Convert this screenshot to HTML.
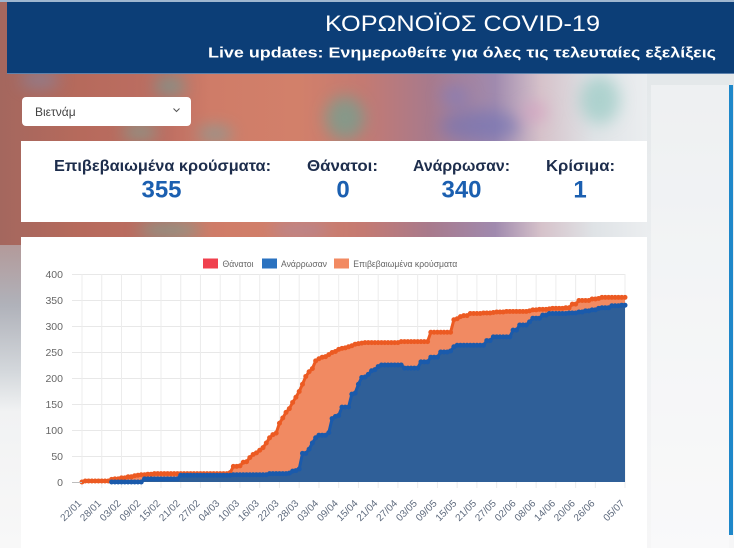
<!DOCTYPE html>
<html>
<head>
<meta charset="utf-8">
<style>
html,body{margin:0;padding:0;width:734px;height:548px;overflow:hidden;background:#eef0f2}
svg{display:block}
</style>
</head>
<body>
<svg width="734" height="548" viewBox="0 0 734 548" xmlns="http://www.w3.org/2000/svg" font-family="'Liberation Sans', 'Noto Sans CJK SC', sans-serif">
<defs>
  <linearGradient id="bgH" gradientUnits="userSpaceOnUse" x1="0" y1="0" x2="660" y2="0">
    <stop offset="0" stop-color="#a4675e"/>
    <stop offset="0.12" stop-color="#b66a5c"/>
    <stop offset="0.25" stop-color="#bd6e62"/>
    <stop offset="0.32" stop-color="#cf7c68"/>
    <stop offset="0.45" stop-color="#d2806a"/>
    <stop offset="0.55" stop-color="#c47a72"/>
    <stop offset="0.65" stop-color="#a87a8c"/>
    <stop offset="0.75" stop-color="#a08aae"/>
    <stop offset="0.82" stop-color="#d6c2ca"/>
    <stop offset="0.9" stop-color="#dfe3e6"/>
    <stop offset="1" stop-color="#eef0f2"/>
  </linearGradient>
  <linearGradient id="leftV" gradientUnits="userSpaceOnUse" x1="0" y1="245" x2="0" y2="548">
    <stop offset="0" stop-color="#b39a9a"/>
    <stop offset="0.2" stop-color="#b0b2ba"/>
    <stop offset="0.42" stop-color="#d4d8dc"/>
    <stop offset="0.55" stop-color="#f1f2f3"/>
    <stop offset="1" stop-color="#f8f8f8"/>
  </linearGradient>
  <linearGradient id="rightV" gradientUnits="userSpaceOnUse" x1="0" y1="74" x2="0" y2="548">
    <stop offset="0" stop-color="#e4e8ea"/>
    <stop offset="0.5" stop-color="#eef0f2"/>
    <stop offset="1" stop-color="#f6f6f7"/>
  </linearGradient>
  <filter id="blur" x="-60%" y="-60%" width="220%" height="220%"><feGaussianBlur stdDeviation="8"/></filter>
  <marker id="mo" markerUnits="userSpaceOnUse" markerWidth="2" markerHeight="10" refX="0" refY="0" overflow="visible">
    <ellipse cx="0" cy="0" rx="0.76" ry="4.8" fill="#ec5a22"/>
  </marker>
  <marker id="mb" markerUnits="userSpaceOnUse" markerWidth="2" markerHeight="10" refX="0" refY="0" overflow="visible">
    <ellipse cx="0" cy="0" rx="0.76" ry="4.8" fill="#1a5aab"/>
  </marker>
</defs>

<!-- background -->
<rect width="734" height="548" fill="#eef0f2"/>
<rect x="0" y="0" width="660" height="250" fill="url(#bgH)"/>
<rect x="0" y="245" width="21" height="303" fill="url(#leftV)"/>
<rect x="647" y="74" width="87" height="474" fill="url(#rightV)"/>
<g filter="url(#blur)" opacity="0.6">
  <ellipse cx="170" cy="86" rx="16" ry="10" fill="#5fa8a0"/>
  <ellipse cx="345" cy="118" rx="20" ry="22" fill="#5cab9a"/>
  <ellipse cx="480" cy="126" rx="40" ry="16" fill="#6f72b5"/>
  <ellipse cx="455" cy="96" rx="14" ry="10" fill="#7b7cc0"/>
  <ellipse cx="535" cy="112" rx="12" ry="10" fill="#d69ac0"/>
  <ellipse cx="600" cy="100" rx="20" ry="24" fill="#8cc6be"/>
  <ellipse cx="140" cy="132" rx="18" ry="8" fill="#6bb0a2"/>
  <ellipse cx="215" cy="134" rx="18" ry="8" fill="#6aa9a8"/>
  <ellipse cx="170" cy="230" rx="32" ry="8" fill="#6cb0a0"/>
  <ellipse cx="300" cy="230" rx="30" ry="7" fill="#a08cb0"/>
  <ellipse cx="40" cy="80" rx="20" ry="8" fill="#7c8cb0"/>
</g>
<rect x="651" y="85" width="78" height="463" fill="#ffffff" opacity="0.35"/>
<rect x="729" y="85" width="4" height="450" fill="#1e87c9"/>

<!-- header -->
<rect x="0" y="0" width="734" height="2" fill="#9fb6cf"/>
<rect x="7" y="2" width="727" height="71.5" fill="#0c3e77"/>
<rect x="7" y="73" width="727" height="1" fill="#5d82ad"/>
<text x="325" y="31" font-size="22" fill="#ffffff" textLength="275" lengthAdjust="spacingAndGlyphs">ΚΟΡΩΝΟΪΟΣ COVID-19</text>
<text x="208" y="57.5" font-size="14.5" font-weight="bold" fill="#ffffff" textLength="508" lengthAdjust="spacingAndGlyphs">Live updates: Ενημερωθείτε για όλες τις τελευταίες εξελίξεις</text>

<!-- dropdown -->
<rect x="22" y="97" width="169" height="29" rx="4" fill="#ffffff"/>
<text x="35" y="116" font-size="12" fill="#444">Βιετνάμ</text>
<polyline points="173.5,108.5 176.5,111.5 179.5,108.5" fill="none" stroke="#555" stroke-width="1"/>

<!-- stats panel -->
<rect x="21" y="141" width="626" height="81" fill="#ffffff"/>
<g font-weight="bold" font-size="16" fill="#1d2d4c">
  <text x="54" y="171" textLength="217" lengthAdjust="spacingAndGlyphs">Επιβεβαιωμένα κρούσματα:</text>
  <text x="307" y="171" textLength="71" lengthAdjust="spacingAndGlyphs">Θάνατοι:</text>
  <text x="413" y="171" textLength="97" lengthAdjust="spacingAndGlyphs">Ανάρρωσαν:</text>
  <text x="546" y="171" textLength="69" lengthAdjust="spacingAndGlyphs">Κρίσιμα:</text>
</g>
<g font-weight="bold" font-size="24" fill="#1b5fb0" text-anchor="middle">
  <text x="161.5" y="197.5">355</text>
  <text x="343" y="197.5">0</text>
  <text x="461.5" y="197.5">340</text>
  <text x="580" y="197.5">1</text>
</g>

<!-- chart panel -->
<rect x="21" y="237" width="626" height="311" fill="#ffffff"/>

<!-- legend -->
<rect x="203" y="258.5" width="15" height="10" fill="#f0404e"/>
<text x="222.5" y="267" font-size="9.5" fill="#666" textLength="31" lengthAdjust="spacingAndGlyphs">Θάνατοι</text>
<rect x="262" y="258.5" width="15" height="10" fill="#2a72c0"/>
<text x="281" y="267" font-size="9.5" fill="#666" textLength="46" lengthAdjust="spacingAndGlyphs">Ανάρρωσαν</text>
<rect x="334" y="258.5" width="15" height="10" fill="#f28a62"/>
<text x="353.3" y="267" font-size="9.5" fill="#666" textLength="104" lengthAdjust="spacingAndGlyphs">Επιβεβαιωμένα κρούσματα</text>

<!-- grid -->
<g stroke="#e8e8e8" stroke-width="1">
  <line x1="72" y1="274.5" x2="625" y2="274.5"/>
  <line x1="72" y1="300.5" x2="625" y2="300.5"/>
  <line x1="72" y1="326.5" x2="625" y2="326.5"/>
  <line x1="72" y1="352.5" x2="625" y2="352.5"/>
  <line x1="72" y1="378.5" x2="625" y2="378.5"/>
  <line x1="72" y1="404.5" x2="625" y2="404.5"/>
  <line x1="72" y1="430.5" x2="625" y2="430.5"/>
  <line x1="72" y1="456.5" x2="625" y2="456.5"/>
</g>
<g stroke="#ececec" stroke-width="1">
  <line x1="82" y1="274" x2="82" y2="488"/>
  <line x1="101.75" y1="274" x2="101.75" y2="488"/>
  <line x1="121.49" y1="274" x2="121.49" y2="488"/>
  <line x1="141.24" y1="274" x2="141.24" y2="488"/>
  <line x1="160.98" y1="274" x2="160.98" y2="488"/>
  <line x1="180.73" y1="274" x2="180.73" y2="488"/>
  <line x1="200.47" y1="274" x2="200.47" y2="488"/>
  <line x1="220.22" y1="274" x2="220.22" y2="488"/>
  <line x1="239.96" y1="274" x2="239.96" y2="488"/>
  <line x1="259.71" y1="274" x2="259.71" y2="488"/>
  <line x1="279.45" y1="274" x2="279.45" y2="488"/>
  <line x1="299.2" y1="274" x2="299.2" y2="488"/>
  <line x1="318.94" y1="274" x2="318.94" y2="488"/>
  <line x1="338.69" y1="274" x2="338.69" y2="488"/>
  <line x1="358.43" y1="274" x2="358.43" y2="488"/>
  <line x1="378.18" y1="274" x2="378.18" y2="488"/>
  <line x1="397.92" y1="274" x2="397.92" y2="488"/>
  <line x1="417.67" y1="274" x2="417.67" y2="488"/>
  <line x1="437.41" y1="274" x2="437.41" y2="488"/>
  <line x1="457.16" y1="274" x2="457.16" y2="488"/>
  <line x1="476.9" y1="274" x2="476.9" y2="488"/>
  <line x1="496.65" y1="274" x2="496.65" y2="488"/>
  <line x1="516.39" y1="274" x2="516.39" y2="488"/>
  <line x1="536.14" y1="274" x2="536.14" y2="488"/>
  <line x1="555.88" y1="274" x2="555.88" y2="488"/>
  <line x1="575.63" y1="274" x2="575.63" y2="488"/>
  <line x1="595.37" y1="274" x2="595.37" y2="488"/>
  <line x1="625" y1="274" x2="625" y2="488"/>
</g>

<!-- y labels -->
<g font-size="10.5" fill="#666" text-anchor="end">
  <text x="63" y="278">400</text>
  <text x="63" y="304">350</text>
  <text x="63" y="330">300</text>
  <text x="63" y="356">250</text>
  <text x="63" y="382">200</text>
  <text x="63" y="408">150</text>
  <text x="63" y="434">100</text>
  <text x="63" y="460">50</text>
  <text x="63" y="486">0</text>
</g>

<!-- data -->
<g transform="translate(82,482) scale(3.2909,-0.52)">
  <polygon fill="#f18a62" points="0,0 1,2 2,2 3,2 4,2 5,2 6,2 7,2 8,2 9,5 10,6 11,6 12,8 13,8 14,10 15,10 16,12 17,13 18,14 19,14 20,15 21,15 22,16 23,16 24,16 25,16 26,16 27,16 28,16 29,16 30,16 31,16 32,16 33,16 34,16 35,16 36,16 37,16 38,16 39,16 40,16 41,16 42,16 43,16 44,16 45,18 46,30 47,30 48,31 49,38 50,39 51,47 52,53 53,56 54,61 55,66 56,75 57,85 58,91 59,94 60,113 61,123 62,134 63,141 64,153 65,163 66,174 67,188 68,203 69,212 70,218 71,233 72,237 73,240 74,241 75,245 76,249 77,251 78,255 79,257 80,258 81,260 82,262 83,265 84,266 85,267 86,268 87,268 88,268 89,268 90,268 91,268 92,268 93,268 94,268 95,268 96,268 97,270 98,270 99,270 100,270 101,270 102,270 103,270 104,270 105,270 106,288 107,288 108,288 109,288 110,288 111,288 112,288 113,312 114,314 115,318 116,320 117,320 118,324 119,324 120,324 121,324 122,325 123,325 124,325 125,326 126,327 127,327 128,327 129,328 130,328 131,328 132,328 133,328 134,328 135,328 136,329 137,331 138,331 139,332 140,332 141,332 142,333 143,334 144,334 145,334 146,334 147,335 148,335 149,342 150,342 151,349 152,349 153,349 154,349 155,352 156,352 157,353 158,355 159,355 160,355 161,355 162,355 163,355 164,355 165,355 165,0"/>
  <polyline fill="none" stroke="#ec5a22" stroke-width="3" stroke-linejoin="round" stroke-linecap="round" vector-effect="non-scaling-stroke" marker-start="url(#mo)" marker-mid="url(#mo)" marker-end="url(#mo)" points="0,0 1,2 2,2 3,2 4,2 5,2 6,2 7,2 8,2 9,5 10,6 11,6 12,8 13,8 14,10 15,10 16,12 17,13 18,14 19,14 20,15 21,15 22,16 23,16 24,16 25,16 26,16 27,16 28,16 29,16 30,16 31,16 32,16 33,16 34,16 35,16 36,16 37,16 38,16 39,16 40,16 41,16 42,16 43,16 44,16 45,18 46,30 47,30 48,31 49,38 50,39 51,47 52,53 53,56 54,61 55,66 56,75 57,85 58,91 59,94 60,113 61,123 62,134 63,141 64,153 65,163 66,174 67,188 68,203 69,212 70,218 71,233 72,237 73,240 74,241 75,245 76,249 77,251 78,255 79,257 80,258 81,260 82,262 83,265 84,266 85,267 86,268 87,268 88,268 89,268 90,268 91,268 92,268 93,268 94,268 95,268 96,268 97,270 98,270 99,270 100,270 101,270 102,270 103,270 104,270 105,270 106,288 107,288 108,288 109,288 110,288 111,288 112,288 113,312 114,314 115,318 116,320 117,320 118,324 119,324 120,324 121,324 122,325 123,325 124,325 125,326 126,327 127,327 128,327 129,328 130,328 131,328 132,328 133,328 134,328 135,328 136,329 137,331 138,331 139,332 140,332 141,332 142,333 143,334 144,334 145,334 146,334 147,335 148,335 149,342 150,342 151,349 152,349 153,349 154,349 155,352 156,352 157,353 158,355 159,355 160,355 161,355 162,355 163,355 164,355 165,355"/>
  <polygon fill="#2f5f98" points="9,0 10,0 11,0 12,0 13,0 14,0 15,0 16,0 17,0 18,0 19,6 20,6 21,6 22,6 23,6 24,6 25,6 26,6 27,6 28,6 29,6 30,13 31,13 32,13 33,13 34,13 35,13 36,13 37,13 38,13 39,13 40,13 41,13 42,13 43,13 44,13 45,13 46,14 47,14 48,14 49,14 50,14 51,14 52,14 53,14 54,14 55,14 56,14 57,16 58,16 59,16 60,16 61,16 62,16 63,17 64,21 65,22 66,25 67,55 68,55 69,63 70,75 71,85 72,90 73,90 74,90 75,95 76,122 77,126 78,128 79,144 80,144 81,144 82,169 83,171 84,188 85,201 86,202 87,207 88,214 89,216 90,222 91,225 92,225 93,225 94,225 95,225 96,225 97,225 98,219 99,219 100,219 101,219 102,219 103,231 104,231 105,231 106,240 107,240 108,240 109,250 110,250 111,250 112,252 113,260 114,263 115,263 116,263 117,263 118,263 119,263 120,263 121,263 122,263 123,272 124,272 125,279 126,279 127,279 128,279 129,279 130,279 131,292 132,292 133,302 134,302 135,302 136,308 137,315 138,315 139,315 140,321 141,321 142,324 143,324 144,324 145,324 146,324 147,324 148,325 149,325 150,325 151,327 152,327 153,329 154,329 155,331 156,331 157,334 158,335 159,335 160,335 161,339 162,339 163,339 164,340 165,340 165,0"/>
  <polyline fill="none" stroke="#1a5aab" stroke-width="3" stroke-linejoin="round" stroke-linecap="round" vector-effect="non-scaling-stroke" marker-start="url(#mb)" marker-mid="url(#mb)" marker-end="url(#mb)" points="9,0 10,0 11,0 12,0 13,0 14,0 15,0 16,0 17,0 18,0 19,6 20,6 21,6 22,6 23,6 24,6 25,6 26,6 27,6 28,6 29,6 30,13 31,13 32,13 33,13 34,13 35,13 36,13 37,13 38,13 39,13 40,13 41,13 42,13 43,13 44,13 45,13 46,14 47,14 48,14 49,14 50,14 51,14 52,14 53,14 54,14 55,14 56,14 57,16 58,16 59,16 60,16 61,16 62,16 63,17 64,21 65,22 66,25 67,55 68,55 69,63 70,75 71,85 72,90 73,90 74,90 75,95 76,122 77,126 78,128 79,144 80,144 81,144 82,169 83,171 84,188 85,201 86,202 87,207 88,214 89,216 90,222 91,225 92,225 93,225 94,225 95,225 96,225 97,225 98,219 99,219 100,219 101,219 102,219 103,231 104,231 105,231 106,240 107,240 108,240 109,250 110,250 111,250 112,252 113,260 114,263 115,263 116,263 117,263 118,263 119,263 120,263 121,263 122,263 123,272 124,272 125,279 126,279 127,279 128,279 129,279 130,279 131,292 132,292 133,302 134,302 135,302 136,308 137,315 138,315 139,315 140,321 141,321 142,324 143,324 144,324 145,324 146,324 147,324 148,325 149,325 150,325 151,327 152,327 153,329 154,329 155,331 156,331 157,334 158,335 159,335 160,335 161,339 162,339 163,339 164,340 165,340"/>
</g>
<line x1="72" y1="482.5" x2="82" y2="482.5" stroke="#bdbdbd" stroke-width="1"/>

<!-- x labels -->
<g font-size="10" fill="#5f6b7e" text-anchor="end">
  <text transform="translate(82,504) rotate(-45)">22/01</text>
  <text transform="translate(101.75,504) rotate(-45)">28/01</text>
  <text transform="translate(121.49,504) rotate(-45)">03/02</text>
  <text transform="translate(141.24,504) rotate(-45)">09/02</text>
  <text transform="translate(160.98,504) rotate(-45)">15/02</text>
  <text transform="translate(180.73,504) rotate(-45)">21/02</text>
  <text transform="translate(200.47,504) rotate(-45)">27/02</text>
  <text transform="translate(220.22,504) rotate(-45)">04/03</text>
  <text transform="translate(239.96,504) rotate(-45)">10/03</text>
  <text transform="translate(259.71,504) rotate(-45)">16/03</text>
  <text transform="translate(279.45,504) rotate(-45)">22/03</text>
  <text transform="translate(299.2,504) rotate(-45)">28/03</text>
  <text transform="translate(318.94,504) rotate(-45)">03/04</text>
  <text transform="translate(338.69,504) rotate(-45)">09/04</text>
  <text transform="translate(358.43,504) rotate(-45)">15/04</text>
  <text transform="translate(378.18,504) rotate(-45)">21/04</text>
  <text transform="translate(397.92,504) rotate(-45)">27/04</text>
  <text transform="translate(417.67,504) rotate(-45)">03/05</text>
  <text transform="translate(437.41,504) rotate(-45)">09/05</text>
  <text transform="translate(457.16,504) rotate(-45)">15/05</text>
  <text transform="translate(476.9,504) rotate(-45)">21/05</text>
  <text transform="translate(496.65,504) rotate(-45)">27/05</text>
  <text transform="translate(516.39,504) rotate(-45)">02/06</text>
  <text transform="translate(536.14,504) rotate(-45)">08/06</text>
  <text transform="translate(555.88,504) rotate(-45)">14/06</text>
  <text transform="translate(575.63,504) rotate(-45)">20/06</text>
  <text transform="translate(595.37,504) rotate(-45)">26/06</text>
  <text transform="translate(625,504) rotate(-45)">05/07</text>
</g>
</svg>
</body>
</html>
